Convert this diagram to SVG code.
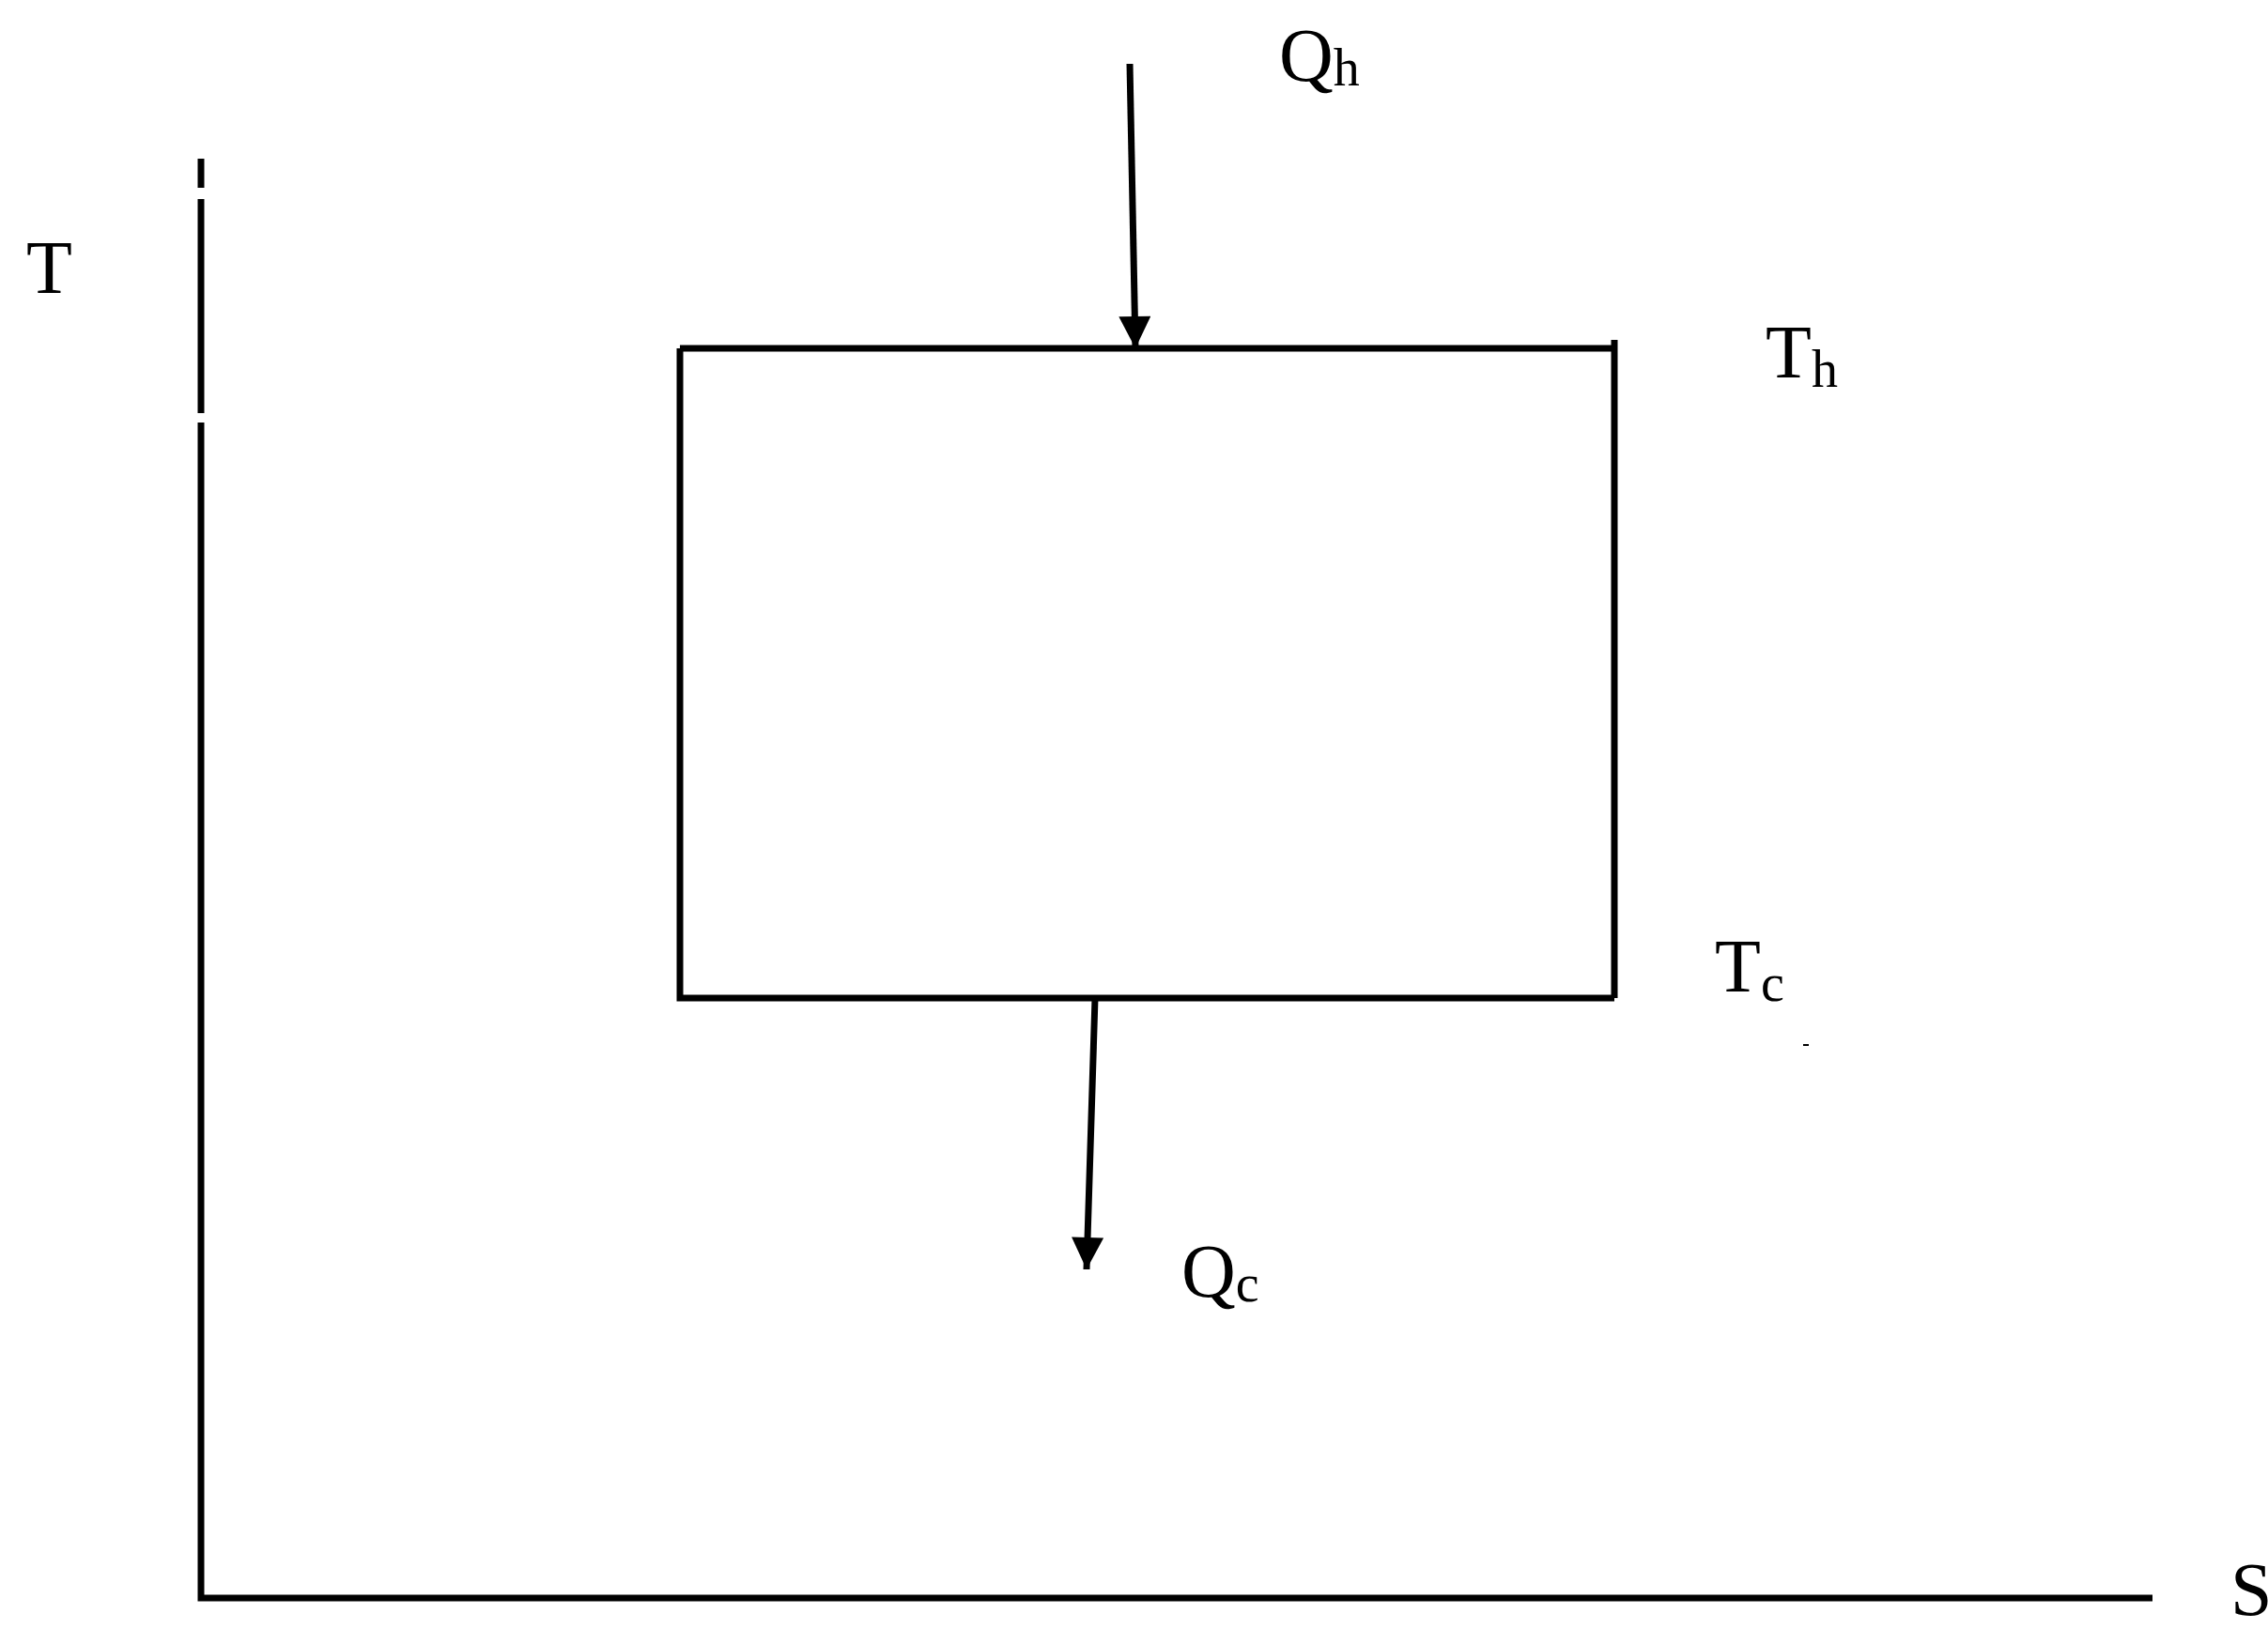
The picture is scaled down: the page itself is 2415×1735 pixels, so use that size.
<svg xmlns="http://www.w3.org/2000/svg" width="2415" height="1735" viewBox="0 0 2415 1735">
<style>
.l{stroke:#000;stroke-width:7;fill:none}
.t{font-family:"Liberation Serif",serif;font-size:80px;fill:#000}
.s{font-family:"Liberation Serif",serif;font-size:56px;fill:#000}
</style>
<defs><marker id="a" markerWidth="10" markerHeight="12" refX="9" refY="5" orient="auto" markerUnits="userSpaceOnUse" viewBox="0 0 10 10"><path d="M0,0L10,5L0,10z"/></marker>
<marker id="ah" viewBox="0 0 10 10" refX="10" refY="5" markerWidth="38" markerHeight="34" orient="auto" markerUnits="userSpaceOnUse"><path d="M0,0L10,5L0,10z" fill="#000"/></marker></defs>
<rect width="2415" height="1735" fill="#fff"/>
<g id="axes">
<path class="l" d="M214,169V200M214,212V440M214,450V1702H2292"/>
<text class="t" x="28" y="312">T</text>
<text class="t" x="2375" y="1720">S</text>
</g>
<g id="cycle">
<path class="l" d="M724,371H1719M1719,362V1063M724,371V1063H1719"/>
<text class="t" x="1880" y="402">T<tspan class="s" dy="10">h</tspan></text>
<text class="t" x="1826" y="1056">T<tspan class="s" dy="10">c</tspan></text>
<path class="l" d="M1920,1113h6" style="stroke-width:2"/>
</g>
<g id="connectors">
<path class="l" d="M1203,68L1209,371" marker-end="url(#ah)"/>
<path class="l" d="M1166,1063L1157,1352" marker-end="url(#ah)"/>
</g>
<g id="labels">
<text class="t" x="1362" y="86">Q<tspan class="s" dy="5">h</tspan></text>
<text class="t" x="1258" y="1381">Q<tspan class="s" dy="5">c</tspan></text>
</g>
</svg>
